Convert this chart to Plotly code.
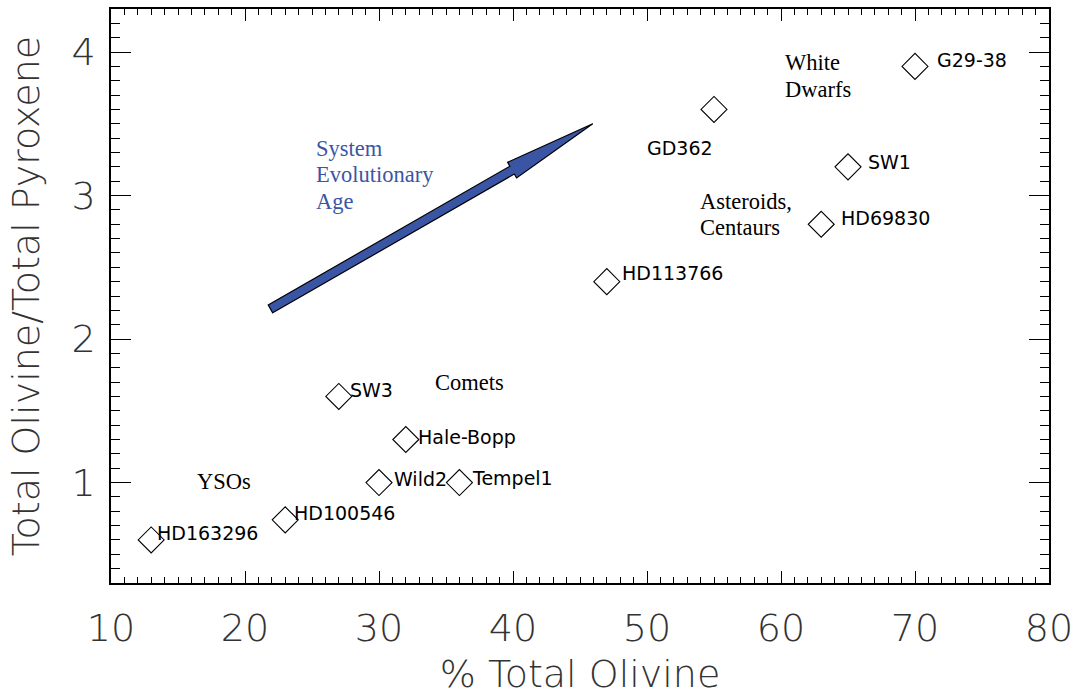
import plotly.graph_objects as go

# ---- data ----
names = ["HD163296", "HD100546", "Wild2", "Tempel1", "Hale-Bopp", "SW3",
         "HD113766", "GD362", "HD69830", "SW1", "G29-38"]
pct_olivine = [13, 23, 30, 36, 32, 27, 47, 55, 63, 65, 70]
oliv_pyrox = [0.6, 0.74, 1.0, 1.0, 1.3, 1.6, 2.4, 3.6, 2.8, 3.2, 3.9]

x_ticks = [10, 20, 30, 40, 50, 60, 70, 80]
y_ticks = [1, 2, 3, 4]

# group annotations (text, x, y) in data units
group_lines = [
    ("White", 60.15, 3.93), ("Dwarfs", 60.15, 3.74),
    ("Asteroids,", 53.8, 2.96), ("Centaurs", 53.8, 2.78),
    ("Comets", 34.0, 1.70),
    ("YSOs", 16.3, 1.005),
]
age_lines = [("System", 25.15, 3.33), ("Evolutionary", 25.15, 3.145), ("Age", 25.15, 2.96)]
arrow_start = (21.9, 2.21)
arrow_end = (45.95, 3.50)

# ---- styles / layout ----
W, H = 1073, 696
ML, MR, MT, MB = 111, 24, 9, 113
XR = (10, 80)
YR = (0.3, 4.3)
label_offsets = {  # (xshift, yshift, xanchor) in px
    "HD163296": (4, 7, "left"), "HD100546": (7, 7, "left"), "Wild2": (13, 4, "left"),
    "Tempel1": (11, 5, "left"), "Hale-Bopp": (10, 3, "left"), "SW3": (9, 6, "left"),
    "HD113766": (13, 9, "left"), "GD362": (-34, -39, "center"), "HD69830": (18, 6, "left"),
    "SW1": (18, 5, "left"), "G29-38": (20, 6, "left"),
}
BLUE = "#3B55A5"
AXFONT = dict(family="DejaVu Sans", size=38, color="#333", weight=200)

fig = go.Figure()
fig.add_trace(go.Scatter(
    x=pct_olivine, y=oliv_pyrox, mode="markers",
    marker=dict(symbol="diamond-open", size=20, color="black", line=dict(width=1.1, color="black")),
    hoverinfo="skip", showlegend=False,
))

annotations = []
for n, xv, yv in zip(names, pct_olivine, oliv_pyrox):
    dx, dy, xa = label_offsets[n]
    annotations.append(dict(x=xv, y=yv, xref="x", yref="y", text=n, showarrow=False,
                            xanchor=xa, yanchor="middle", xshift=dx, yshift=dy,
                            font=dict(family="DejaVu Sans", size=19, color="black")))
for t, xv, yv in group_lines:
    annotations.append(dict(x=xv, y=yv, xref="x", yref="y", text=t, showarrow=False,
                            xanchor="left", yanchor="middle",
                            font=dict(family="Liberation Serif", size=22.5, color="black")))
for t, xv, yv in age_lines:
    annotations.append(dict(x=xv, y=yv, xref="x", yref="y", text=t, showarrow=False,
                            xanchor="left", yanchor="middle",
                            font=dict(family="Liberation Serif", size=22.5, color=BLUE)))

# arrow polygon computed in pixel space and converted back to data units
pw = W - ML - MR
ph = H - MT - MB
sx = pw / (XR[1] - XR[0])
sy = ph / (YR[1] - YR[0])
def to_px(x, y):
    return ((x - XR[0]) * sx, -(y - YR[0]) * sy)
def to_data(px, py):
    return (px / sx + XR[0], -py / sy + YR[0])
ax0, ay0 = to_px(*arrow_start)
ax1, ay1 = to_px(*arrow_end)
L = ((ax1 - ax0) ** 2 + (ay1 - ay0) ** 2) ** 0.5
ux, uy = (ax1 - ax0) / L, (ay1 - ay0) / L
nx, ny = -uy, ux
head_len, hw, hh = 93, 4.5, 9.0
bx, by = ax1 - head_len * ux, ay1 - head_len * uy
pts = [
    (ax0 + hw * nx, ay0 + hw * ny),
    (bx + hw * nx, by + hw * ny),
    (bx + hh * nx, by + hh * ny),
    (ax1, ay1),
    (bx - hh * nx, by - hh * ny),
    (bx - hw * nx, by - hw * ny),
    (ax0 - hw * nx, ay0 - hw * ny),
]
dpts = [to_data(*p) for p in pts]
path = "M " + " L ".join(f"{px:.4f},{py:.4f}" for px, py in dpts) + " Z"

fig.update_layout(
    width=W, height=H,
    margin=dict(l=ML, r=MR, t=MT, b=MB, autoexpand=False),
    paper_bgcolor="white", plot_bgcolor="white",
    annotations=annotations,
    shapes=[dict(type="path", path=path, xref="x", yref="y",
                 fillcolor=BLUE, line=dict(color="black", width=1.2))],
    font=dict(family="DejaVu Sans", color="#222"),
)
fig.update_xaxes(
    range=list(XR), tickvals=x_ticks, ticktext=[str(v) for v in x_ticks],
    showgrid=False, zeroline=False, showline=True, linecolor="black", linewidth=1.5,
    mirror="allticks", ticks="inside", ticklen=12, tickwidth=1.2, tickcolor="black",
    minor=dict(ticks="inside", ticklen=6, tickwidth=1, tickcolor="black", dtick=1, showgrid=False),
    tickfont=AXFONT, ticklabeloverflow="allow", automargin=False,
    ticklabelstandoff=11,
    title=dict(text="% Total Olivine", font=AXFONT, standoff=13),
)
fig.update_yaxes(
    range=list(YR), tickvals=y_ticks, ticktext=[str(v) for v in y_ticks],
    showgrid=False, zeroline=False, showline=True, linecolor="black", linewidth=1.5,
    mirror="allticks", ticks="inside", ticklen=20, tickwidth=1.2, tickcolor="black",
    minor=dict(ticks="inside", ticklen=9, tickwidth=1, tickcolor="black", dtick=0.1, showgrid=False),
    tickfont=AXFONT, ticklabeloverflow="allow", automargin=False,
    ticklabelstandoff=6,
    title=dict(text="Total Olivine/Total Pyroxene", font=AXFONT, standoff=20),
)

fig.write_html("out.html")
